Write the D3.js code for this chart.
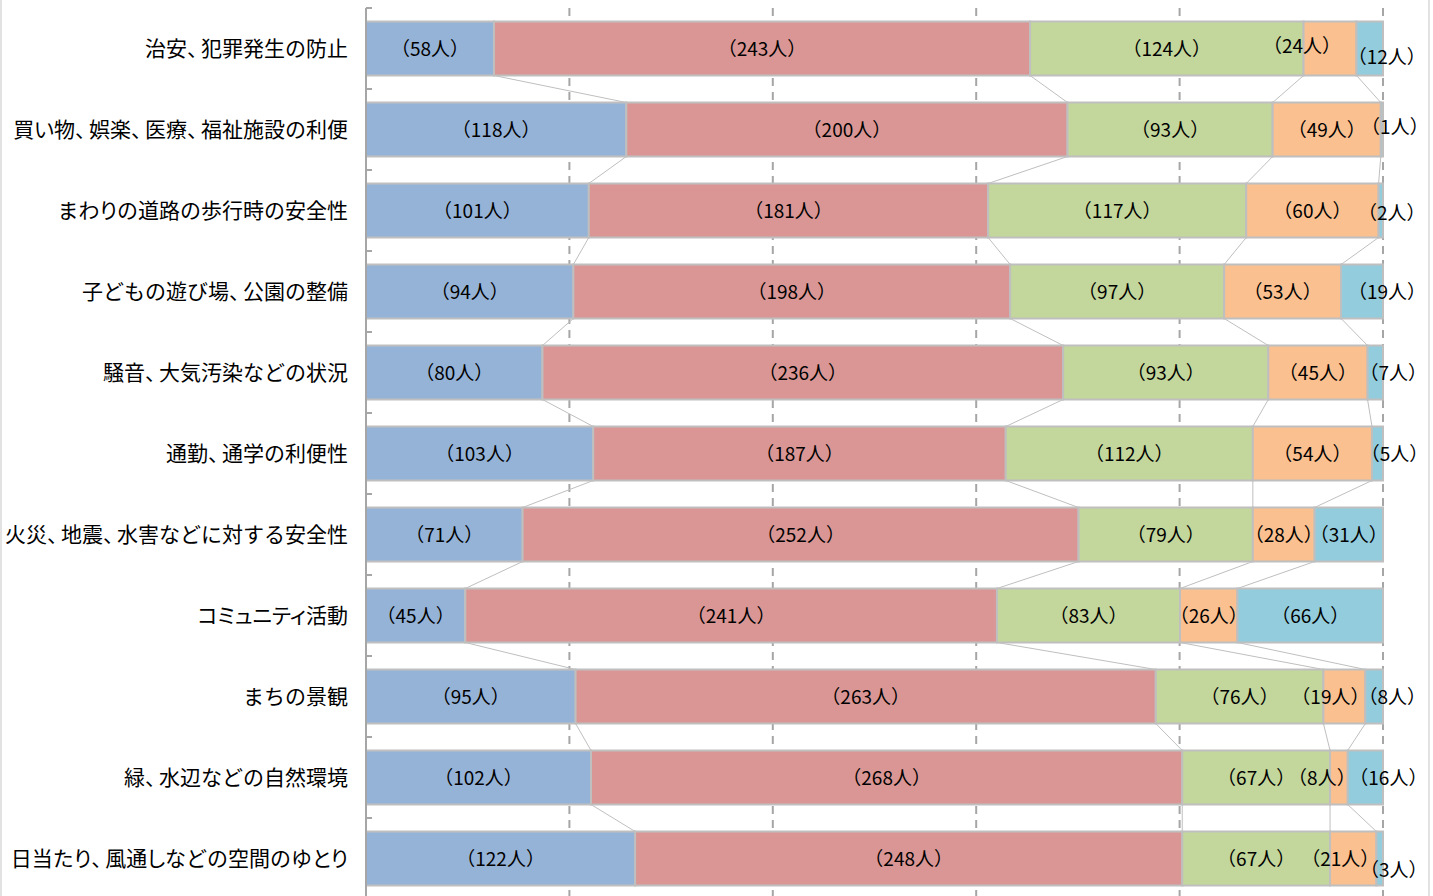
<!DOCTYPE html>
<html><head><meta charset="utf-8">
<script src="https://cdn.jsdelivr.net/npm/d3@7"></script>
<style>
html,body{margin:0;padding:0;background:#fff;}
svg{display:block;}
text{font-family:"Noto Sans CJK JP","Noto Sans",sans-serif;fill:#000;}
.kana{font-feature-settings:"palt";}
</style></head>
<body>
<svg id="chart" width="1433" height="896"></svg>
<script>
const categories = [
  "治安、犯罪発生の防止",
  "買い物、娯楽、医療、福祉施設の利便",
  "まわりの道路の歩行時の安全性",
  "子どもの遊び場、公園の整備",
  "騒音、大気汚染などの状況",
  "通勤、通学の利便性",
  "火災、地震、水害などに対する安全性",
  "コミュニティ活動",
  "まちの景観",
  "緑、水辺などの自然環境",
  "日当たり、風通しなどの空間のゆとり"
];
const series1 = [58, 118, 101, 94, 80, 103, 71, 45, 95, 102, 122];
const series2 = [243, 200, 181, 198, 236, 187, 252, 241, 263, 268, 248];
const series3 = [124, 93, 117, 97, 93, 112, 79, 83, 76, 67, 67];
const series4 = [24, 49, 60, 53, 45, 54, 28, 26, 19, 8, 21];
const series5 = [12, 1, 2, 19, 7, 5, 31, 66, 8, 16, 3];
const seriesList = [series1, series2, series3, series4, series5];
const colors = ["#95b3d7", "#d99694", "#c3d69b", "#fac090", "#93cddd"];
const xTicks = [0, 0.2, 0.4, 0.6, 0.8, 1];

// label nudges for small segments (row, series, dx, dy)
const labelNudges = [
  [0,3,-28,-3],[0,4,17,8],[1,4,13,-3],[2,4,11,2],[3,4,25,0],[4,4,18,0],[5,4,17,0],
  [8,3,-14,0],[8,4,18,0],[9,3,-17,0],[9,4,23,0],[10,3,-13,0],[10,4,14,11]
];

(function(){
const svg = d3.select("#chart");
const W = 1433, H = 896;
const pL = 366, pR = 1383, pT = 8, pB = 899;

svg.append("rect").attr("x",1).attr("y",-10).attr("width",1428).attr("height",H+20)
  .attr("fill","none").attr("stroke","#d9d9d9").attr("stroke-width",1.5);

const x = d3.scaleLinear().domain([0,1]).range([pL,pR]);
const y = d3.scaleBand().domain(categories).range([pT,pB]).paddingInner(1/3).paddingOuter(1/6);

const rows = categories.map((c,i)=>{
  const vals = seriesList.map(s=>s[i]);
  const total = d3.sum(vals);
  let cum = 0;
  const segs = vals.map((v,j)=>{ const s={row:i,series:j,value:v,x0:cum/total,x1:(cum+v)/total}; cum+=v; return s;});
  return {cat:c, segs};
});

svg.append("g").selectAll("line").data(xTicks.slice(1)).join("line")
  .attr("x1",d=>x(d)).attr("x2",d=>x(d)).attr("y1",pT).attr("y2",pB)
  .attr("stroke","#a6a6a6").attr("stroke-width",2).attr("stroke-dasharray","8,6");

const conn = [];
for(let i=0;i<rows.length-1;i++){
  for(let j=0;j<4;j++){
    conn.push({xa:rows[i].segs[j].x1, xb:rows[i+1].segs[j].x1, ya:y(categories[i])+y.bandwidth(), yb:y(categories[i+1])});
  }
}
svg.append("g").selectAll("line").data(conn).join("line")
  .attr("x1",d=>x(d.xa)).attr("x2",d=>x(d.xb)).attr("y1",d=>d.ya).attr("y2",d=>d.yb)
  .attr("stroke","#bfbfbf").attr("stroke-width",1);

const allSegs = rows.flatMap(r=>r.segs);
svg.append("g").selectAll("rect").data(allSegs).join("rect")
  .attr("x",d=>x(d.x0)).attr("width",d=>x(d.x1)-x(d.x0))
  .attr("y",d=>y(categories[d.row])).attr("height",y.bandwidth())
  .attr("fill",d=>colors[d.series]).attr("stroke","#bfbfbf").attr("stroke-width",2);

const axisG = svg.append("g");
axisG.append("line").attr("x1",pL).attr("x2",pL).attr("y1",pT).attr("y2",pB)
  .attr("stroke","#a6a6a6").attr("stroke-width",2);
const boundaries = d3.range(categories.length+1).map(k=>pT + y.step()*k);
axisG.selectAll("line.tk").data(boundaries).join("line").attr("class","tk")
  .attr("x1",pL).attr("x2",pL+6).attr("y1",d=>d).attr("y2",d=>d)
  .attr("stroke","#a6a6a6").attr("stroke-width",2);

// category labels: proportional comma and narrow kana like the original font
const catText = svg.append("g").selectAll("text").data(categories).join("text")
  .attr("x",348).attr("y",d=>y(d)+y.bandwidth()/2 - 1.5)
  .attr("text-anchor","end").attr("dominant-baseline","central")
  .attr("font-size",21);
const narrow = /[\u30A0-\u30FFりしとい]/;
catText.each(function(d){
  const t = d3.select(this);
  const parts = d.match(/(、|[\u30A0-\u30FFりしとい]+|[^、\u30A0-\u30FFりしとい]+)/g);
  parts.forEach(p=>{
    const ts = t.append("tspan").text(p);
    if(p==="、") ts.attr("letter-spacing","-7px");
    else if(narrow.test(p)) ts.attr("class","kana");
  });
});

const nudge = {};
labelNudges.forEach(([r,s,dx,dy])=>nudge[r+"_"+s]=[dx,dy]);
svg.append("g").selectAll("text").data(allSegs).join("text")
  .attr("x",d=>(x(d.x0)+x(d.x1))/2 + (nudge[d.row+"_"+d.series]||[0,0])[0])
  .attr("y",d=>y(categories[d.row])+y.bandwidth()/2 - 1 + (nudge[d.row+"_"+d.series]||[0,0])[1])
  .attr("text-anchor","middle").attr("dominant-baseline","central")
  .attr("font-size",19).text(d=>"（"+d.value+"人）");
})();
</script>
</body></html>
